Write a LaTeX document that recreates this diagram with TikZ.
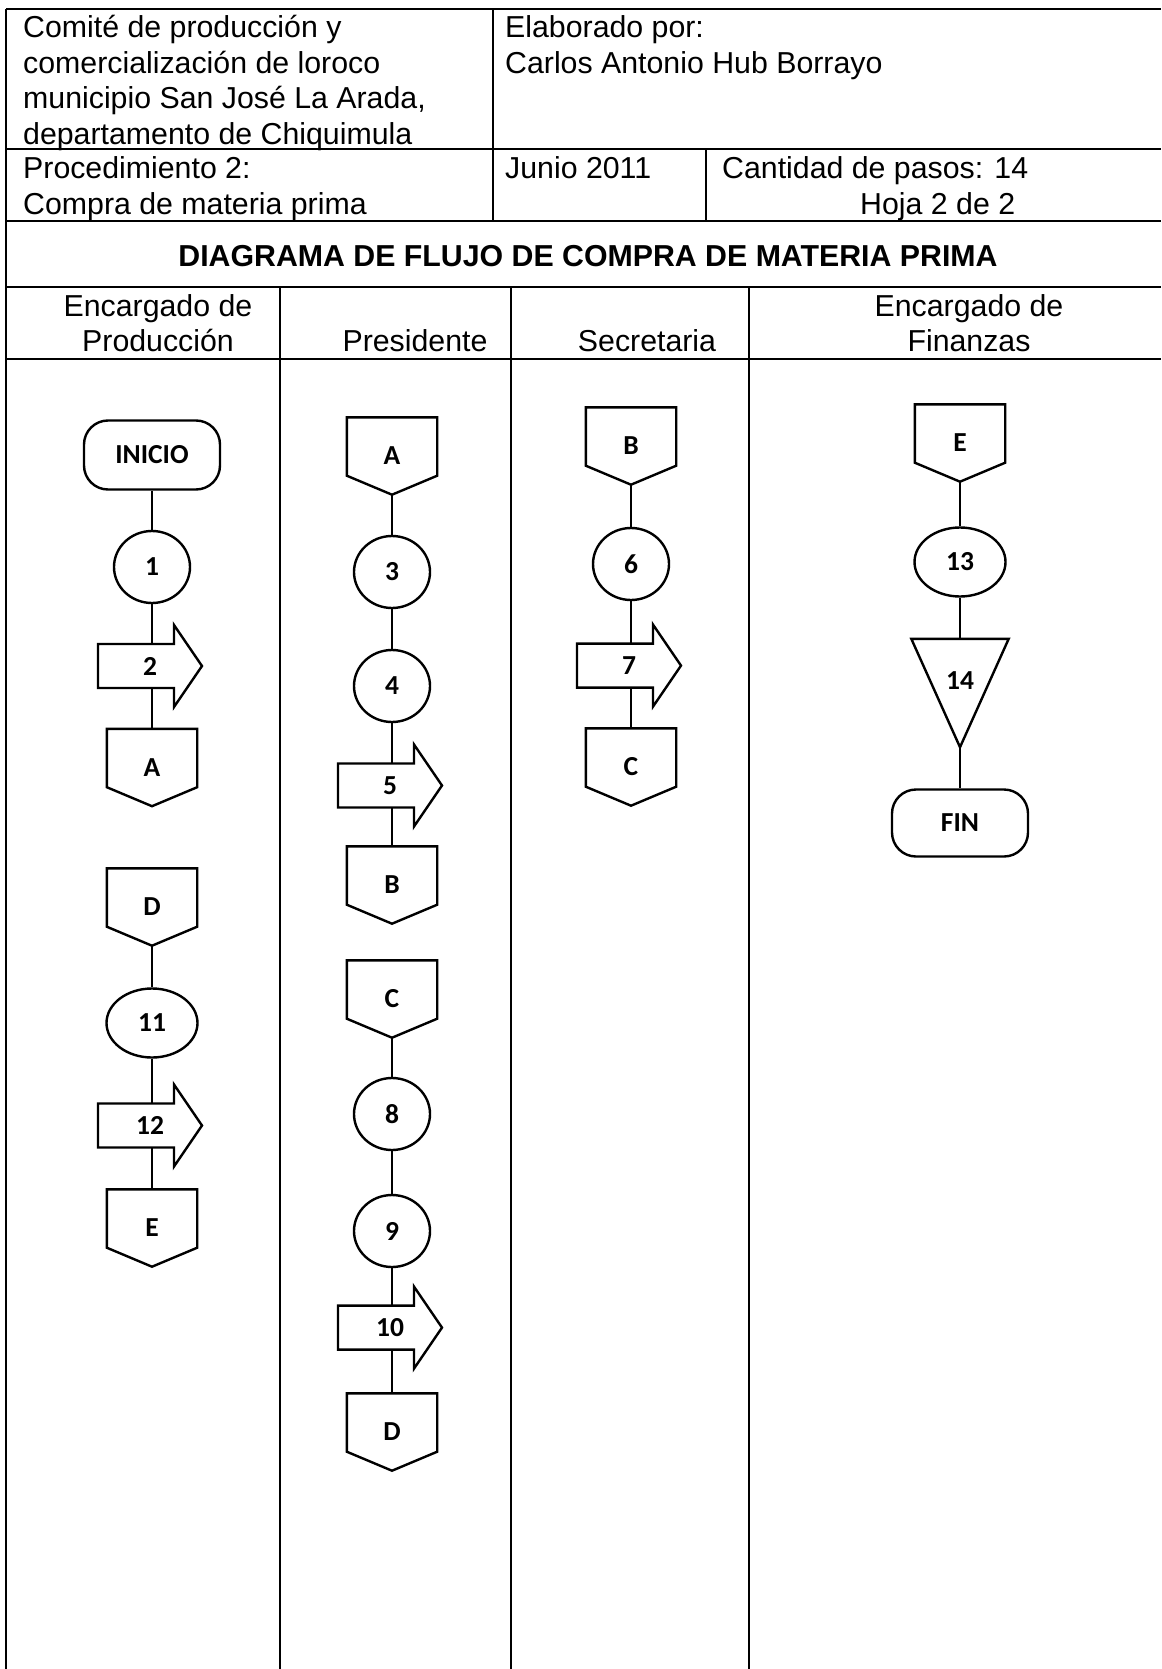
\documentclass[tikz,border=0pt]{standalone}
\usepackage{fontspec}
\setmainfont{Liberation Sans}
\newfontfamily\calibri{Carlito}
\usetikzlibrary{shapes.geometric,backgrounds}

\begin{document}
\begin{tikzpicture}[x=1pt,y=-1pt,
	tabla/.style={line width=2.6pt},
	texto/.style={anchor=base west,inner sep=0,font=\fontsize{30.3}{35.7}\selectfont},
	carril/.style={anchor=base,inner sep=0,font=\fontsize{30.3}{35.7}\selectfont},
	titulo/.style={carril,font=\fontsize{30.3}{35.7}\selectfont\bfseries},
	simbolo/.style={inner sep=0,font=\calibri\bfseries\fontsize{27.5}{32}\selectfont},
	terminal/.style={simbolo,draw,line width=2.4pt,fill=white,rounded corners=24pt,minimum width=136pt,minimum height=69pt},
	paso/.style={simbolo,ellipse,draw,line width=2.4pt,fill=white,minimum width=76pt,minimum height=72pt},
	paso ancho/.style={paso,minimum width=91pt,minimum height=69pt},
	conector/.style={simbolo,minimum width=90pt,minimum height=77pt},
	traslado/.style={simbolo,minimum width=104pt,minimum height=82pt},
	almacen/.style={simbolo,minimum width=97pt,minimum height=108pt},
	linea/.style={line width=2.4pt}]
	\useasboundingbox (0,0) rectangle (1161,1669);
	\draw[tabla] (6,9) -- (1161,9);
	\draw[tabla] (6,149) -- (1161,149);
	\draw[tabla] (6,221) -- (1161,221);
	\draw[tabla] (6,287) -- (1161,287);
	\draw[tabla] (6,359) -- (1161,359);
	\draw[tabla] (6,9) -- (6,1669);
	\draw[tabla] (493,9) -- (493,221);
	\draw[tabla] (706,149) -- (706,221);
	\foreach \x in {280,511,749} \draw[tabla] (\x,287) -- (\x,1669);
	\foreach \t [count=\i] in {Comité de producción y, comercialización de loroco, {municipio San José La Arada,}, departamento de Chiquimula}
		\node[texto] (comite\i) at (23,1.8+35.7*\i) {\t};
	\node[texto] (elaborado) at (505,37.5) {Elaborado por:};
	\node[texto] (autor) at (505,73.2) {Carlos Antonio Hub Borrayo};
	\node[texto] (proc) at (23,179) {Procedimiento 2:};
	\node[texto] (compra) at (23,214.7) {Compra de materia prima};
	\node[texto] (fecha) at (505,179) {Junio 2011};
	\node[texto] (pasos) at (722,179) {Cantidad de pasos: 14};
	\node[texto] (hoja) at (860,214.7) {Hoja 2 de 2};
	\node[titulo] (titulo) at (588,266.3) {DIAGRAMA DE FLUJO DE COMPRA DE MATERIA PRIMA};
	\node[carril] (prod1) at (158,316.3) {Encargado de};
	\node[carril] (prod2) at (158,351.4) {Producción};
	\node[carril] (pres) at (415,351.4) {Presidente};
	\node[carril] (secr) at (647,351.4) {Secretaria};
	\node[carril] (fin1) at (969,316.3) {Encargado de};
	\node[carril] (fin2) at (969,351.4) {Finanzas};
	\node[terminal] (inicio) at (152,455) {INICIO};
	\node[paso] (p1) at (152,567) {1};
	\node[traslado] (p2) at (150,666) {2};
	\node[conector] (a1) at (152,767.5) {A};
	\node[conector] (d1) at (152,907) {D};
	\node[paso ancho] (p11) at (152,1023) {11};
	\node[traslado] (p12) at (150,1125.5) {12};
	\node[conector] (e1) at (152,1228) {E};
	\node[conector] (a2) at (392,456) {A};
	\node[paso] (p3) at (392,572) {3};
	\node[paso] (p4) at (392,686) {4};
	\node[traslado] (p5) at (390,785.5) {5};
	\node[conector] (b2) at (392,885) {B};
	\node[conector] (c2) at (392,999) {C};
	\node[paso] (p8) at (392,1114) {8};
	\node[paso] (p9) at (392,1231) {9};
	\node[traslado] (p10) at (390,1327.6) {10};
	\node[conector] (d2) at (392,1432) {D};
	\node[conector] (b3) at (631,446) {B};
	\node[paso] (p6) at (631,564) {6};
	\node[traslado] (p7) at (629,665.6) {7};
	\node[conector] (c3) at (631,767) {C};
	\node[conector] (e4) at (960,443) {E};
	\node[paso ancho] (p13) at (960,562) {13};
	\node[almacen,label={[simbolo,yshift=12pt]center:14}] (p14) at (960,693) {};
	\node[terminal,minimum height=67pt] (fin) at (960,823) {FIN};
	\begin{scope}[on background layer]
		\fill[white] (0,0) rectangle (1161,1669);
		\draw[linea] (inicio) -- (p1) -- (a1);
		\draw[linea] (d1) -- (p11) -- (e1);
		\draw[linea] (a2) -- (p3) -- (p4) -- (b2);
		\draw[linea] (c2) -- (p8) -- (p9) -- (d2);
		\draw[linea] (b3) -- (p6) -- (c3);
		\draw[linea] (e4) -- (p13) -- (p14) -- (fin);
		\foreach \n in {a1,d1,e1,a2,b2,c2,d2,b3,c3,e4}
			\draw[linea,fill=white] (\n.north west) -- (\n.north east) -- ([yshift=19pt]\n.south east) -- (\n.south) -- ([yshift=19pt]\n.south west) -- cycle;
		\foreach \n in {p2,p5,p7,p10,p12}
			\draw[linea,fill=white,shift={(\n.center)}] (-52pt,22pt) -- (24pt,22pt) -- (24pt,41pt) -- (52pt,0pt) -- (24pt,-41pt) -- (24pt,-22pt) -- (-52pt,-22pt) -- cycle;
		\draw[linea,fill=white] (p14.north west) -- (p14.north east) -- (p14.south) -- cycle;
	\end{scope}
\end{tikzpicture}
\end{document}
